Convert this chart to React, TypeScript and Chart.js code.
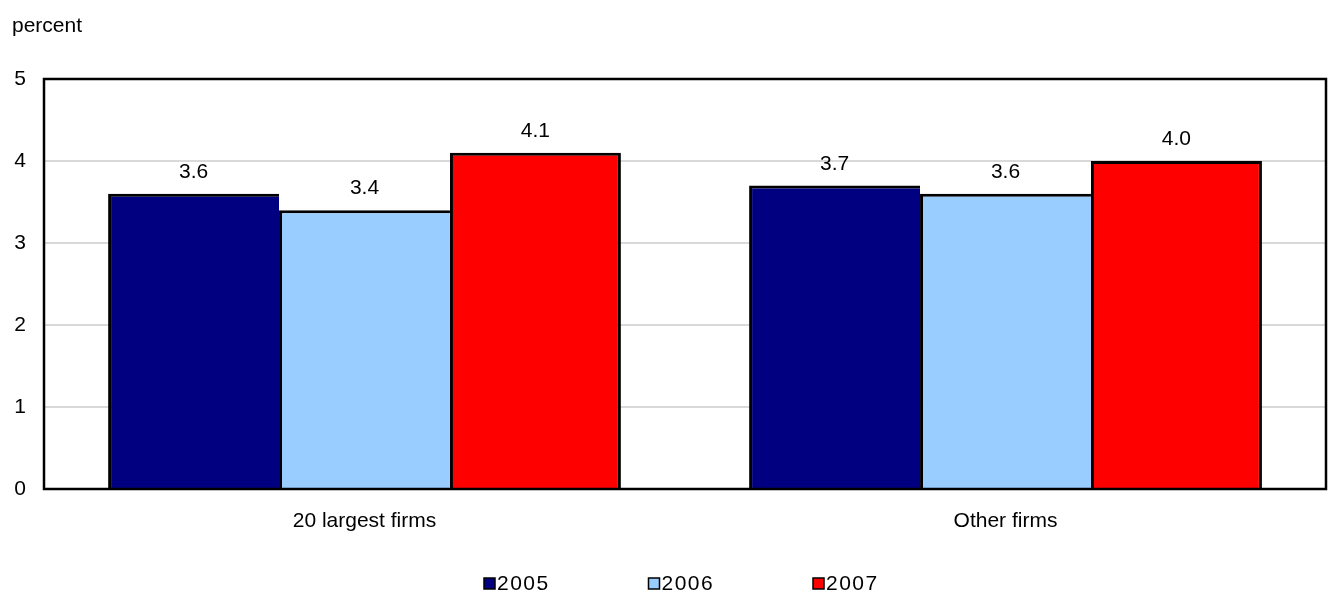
import React, { useEffect, useRef } from "react";
import { Chart, registerables } from "chart.js";

Chart.register(...registerables);

const categories = ["20 largest firms", "Other firms"];
const seriesLabels = ["2005", "2006", "2007"];
const values2005 = [3.6, 3.7];
const values2006 = [3.4, 3.6];
const values2007 = [4.1, 4.0];
const seriesColors = ["#000080", "#99CCFF", "#FF0000"];
const yTicks = [0, 1, 2, 3, 4, 5];
const yAxisLabel = "percent";

const FONT = '"Liberation Sans", Arial, Helvetica, sans-serif';
const FONT_SIZE = 21;

const framePlugin = {
  id: "frame",
  afterDatasetsDraw(chart: any) {
    const { ctx, chartArea } = chart;
    ctx.save();
    ctx.strokeStyle = "#000";
    ctx.lineWidth = 2.5;
    ctx.strokeRect(chartArea.left, chartArea.top, chartArea.right - chartArea.left, chartArea.bottom - chartArea.top);
    ctx.restore();
  },
};

const valueLabelPlugin = {
  id: "valueLabels",
  afterDatasetsDraw(chart: any) {
    const { ctx } = chart;
    ctx.save();
    ctx.font = `${FONT_SIZE}px ${FONT}`;
    ctx.fillStyle = "#000";
    ctx.textAlign = "center";
    ctx.textBaseline = "alphabetic";
    chart.data.datasets.forEach((ds: any, i: number) => {
      const meta = chart.getDatasetMeta(i);
      meta.data.forEach((el: any, j: number) => {
        const v = ds.data[j] as number;
        ctx.fillText(v.toFixed(1), el.x, el.y - 16);
      });
    });
    ctx.restore();
  },
};

const titleAndLegendPlugin = {
  id: "titleLegend",
  afterDraw(chart: any) {
    const { ctx, chartArea } = chart;
    ctx.save();
    ctx.font = `${FONT_SIZE}px ${FONT}`;
    ctx.fillStyle = "#000";
    ctx.textAlign = "left";
    ctx.textBaseline = "alphabetic";
    ctx.fillText(yAxisLabel, 12, 32);

    // legend
    const stride = 164.5;
    const box = 11;
    const centerX = (chartArea.left + chartArea.right) / 2;
    const startX = centerX - 201;
    const baseline = 590;
    try {
      (ctx as any).letterSpacing = "1.5px";
    } catch (e) {}
    chart.data.datasets.forEach((ds: any, i: number) => {
      const x = startX + i * stride;
      ctx.fillStyle = ds.backgroundColor;
      ctx.fillRect(x, baseline - 12, box, box);
      ctx.strokeStyle = "#000";
      ctx.lineWidth = 1.5;
      ctx.strokeRect(x, baseline - 12, box, box);
      ctx.fillStyle = "#000";
      ctx.fillText(ds.label, x + box + 2, baseline);
    });
    ctx.restore();
  },
};

export default function App() {
  const ref = useRef<HTMLCanvasElement>(null);
  useEffect(() => {
    document.body.style.margin = "0";
    const seriesValues = [values2005, values2006, values2007];
    const chart = new Chart(ref.current as HTMLCanvasElement, {
      type: "bar",
      data: {
        labels: categories,
        datasets: seriesLabels.map((label, i) => ({
          label,
          data: seriesValues[i],
          backgroundColor: seriesColors[i],
          borderColor: "#000",
          borderWidth: {
            top: 3,
            left: 3,
            right: i === seriesLabels.length - 1 ? 3 : 0,
            bottom: 0,
          },
          inflateAmount: 0,
          borderSkipped: false,
          barPercentage: 1,
          categoryPercentage: 0.8,
        })),
      },
      options: {
        responsive: false,
        animation: false,
        devicePixelRatio: 1,
        layout: { padding: { left: 12, right: 4, top: 79, bottom: 0 } },
        plugins: {
          legend: { display: false },
          tooltip: { enabled: false },
          title: { display: false },
        },
        scales: {
          x: {
            grid: { display: false, drawTicks: false },
            border: { display: false },
            ticks: { color: "#000", font: { family: FONT, size: FONT_SIZE }, padding: 20 },
            afterFit: (scale: any) => {
              scale.height = 103;
            },
          },
          y: {
            min: 0,
            max: 5,
            grid: { color: "#d9d9d9", lineWidth: 2, drawTicks: false },
            border: { display: false },
            ticks: {
              stepSize: 1,
              color: "#000",
              font: { family: FONT, size: FONT_SIZE },
              padding: 18,
            },
            afterBuildTicks: (scale: any) => {
              scale.ticks = yTicks.map((v) => ({ value: v }));
            },
            afterFit: (scale: any) => {
              scale.width = 32;
            },
          },
        },
      },
      plugins: [framePlugin, valueLabelPlugin, titleAndLegendPlugin],
    } as any);
    return () => chart.destroy();
  }, []);
  return <canvas ref={ref} width={1330} height={592} style={{ display: "block", width: 1330, height: 592 }} />;
}
